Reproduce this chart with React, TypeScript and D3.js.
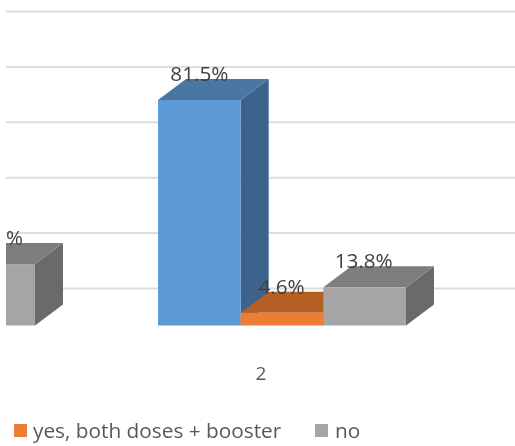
import React from "react";
import * as d3 from "d3";

const W = 515, H = 446;
const categories = ["1", "2"];
const seriesNames = ["yes, both doses", "yes, both doses + booster", "no"];
const group2Values = [81.5, 4.6, 13.8];
const leftBarValue = 22.2;
const leftBarLabel = "%";
const gridValues = [0, 20, 40, 60, 80, 100];
const legendItems = ["yes, both doses + booster", "no"];

const front = ["#5b9bd5", "#ed7d31", "#a5a5a5"];
const top = ["#4876a3", "#b55f23", "#7d7d7d"];
const side = ["#3a648c", "#a0541f", "#6b6b6b"];
const FONT = "'Open Sans', sans-serif";
const DX = 28, DY = 21;

const y = d3.scaleLinear().domain([0, 81.5]).range([325.5, 100]);
const grid = d3.scaleLinear().domain([0, 100]).range([288.5, 11.5]);
const x = d3.scaleBand().domain(seriesNames).range([158, 406]).padding(0);

function Bar({ x0, w, v, i }: { x0: number; w: number; v: number; i: number }) {
  const y0 = y(0), y1 = y(v), x1 = x0 + w;
  const poly = (p: number[][]) => p.map((q) => q.join(",")).join(" ");
  return (
    <g>
      <polygon fill={side[i]} points={poly([[x1, y1], [x1 + DX, y1 - DY], [x1 + DX, y0 - DY], [x1, y0]])} />
      <polygon fill={top[i]} points={poly([[x0, y1], [x0 + DX, y1 - DY], [x1 + DX, y1 - DY], [x1, y1]])} />
      <rect x={x0} y={y1} width={w} height={y0 - y1} fill={front[i]} />
    </g>
  );
}

export default function App() {
  const bw = x.bandwidth();
  const order = [0, 1, 2];
  return (
    <svg width={W} height={H} style={{ position: "absolute", left: 0, top: 0, background: "#fff" }}>
      <defs>
        <clipPath id="plot"><rect x={6} y={0} width={W} height={H} /></clipPath>
        <filter id="soft"><feGaussianBlur stdDeviation={0.4} /></filter>
      </defs>
      <g filter="url(#soft)">
        {gridValues.map((g) => (
          <line key={g} x1={6} x2={W} y1={grid(g)} y2={grid(g)} stroke="#dedede" strokeWidth={2} />
        ))}
        <g clipPath="url(#plot)">
          <Bar x0={35 - bw} w={bw} v={leftBarValue} i={2} />
        </g>
        <text x={6} y={y(leftBarValue) - 19} fontFamily={FONT} fontSize={20.5} fill="#404040">{leftBarLabel}</text>
        {order.map((i) => (
          <Bar key={i} x0={x(seriesNames[i])!} w={bw} v={group2Values[i]} i={i} />
        ))}
        {order.map((i) => (
          <text key={i} x={x(seriesNames[i])! + bw / 2 + (i === 0 ? 0 : i === 1 ? -0.5 : -1)} y={y(group2Values[i]) - 19} textAnchor="middle" fontFamily={FONT} fontSize={20.7} fill="#404040">{group2Values[i].toFixed(1)}%</text>
        ))}
        <text x={261} y={380} textAnchor="middle" fontFamily={FONT} fontSize={19} fill="#595959">{categories[1]}</text>
        <rect x={14} y={424} width={13} height={13} fill={front[1]} />
        <text x={33} y={437.5} fontFamily={FONT} fontSize={20.8} fill="#595959">{legendItems[0]}</text>
        <rect x={315} y={424} width={13} height={13} fill={front[2]} />
        <text x={335} y={437.5} fontFamily={FONT} fontSize={20.8} fill="#595959">{legendItems[1]}</text>
      </g>
    </svg>
  );
}
